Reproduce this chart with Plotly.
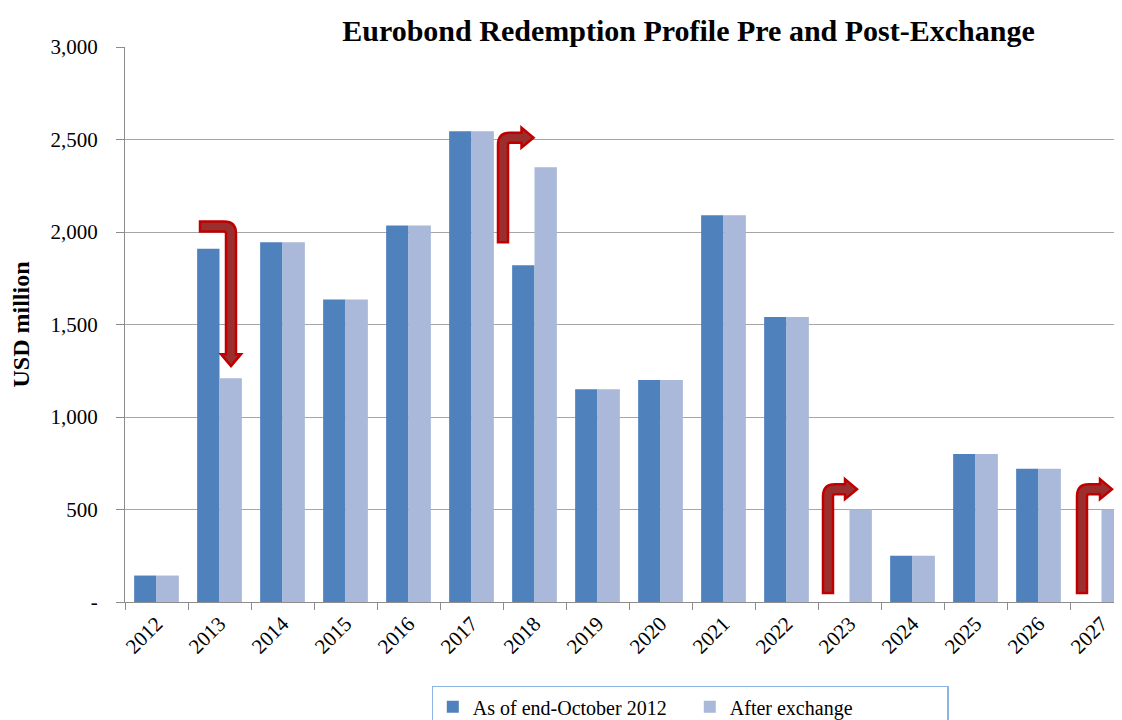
import plotly.graph_objects as go

years = ["2012", "2013", "2014", "2015", "2016", "2017", "2018", "2019",
         "2020", "2021", "2022", "2023", "2024", "2025", "2026", "2027"]
pre_exchange = [143, 1910, 1945, 1635, 2035, 2545, 1820, 1150,
                1200, 2090, 1540, 0, 250, 800, 720, 0]
post_exchange = [143, 1210, 1945, 1635, 2035, 2545, 2350, 1150,
                 1200, 2090, 1540, 500, 250, 800, 720, 500]
y_tick_vals = [0, 500, 1000, 1500, 2000, 2500, 3000]
y_tick_text = ["-", "500", "1,000", "1,500", "2,000", "2,500", "3,000"]

FONT = "Liberation Serif"
DARK = "#4F81BD"
LIGHT = "#AAB9D9"

# page is offset by the 8px body margin; figure geometry in figure pixels
OFF = 8
W_FIG, H_FIG = 1122 - OFF, 720 - OFF
L, T, B = 125 - OFF, 47 - OFF, 602 - OFF
PW, PH = W_FIG - L, B - T
CAT_PX = 63.0
X_MAX = -0.5 + PW / CAT_PX

fig = go.Figure()
fig.add_trace(go.Bar(x=years, y=pre_exchange, name="As of end-October 2012",
                     marker=dict(color=DARK, line=dict(width=0))))
fig.add_trace(go.Bar(x=years, y=post_exchange, name="After exchange",
                     marker=dict(color=LIGHT, line=dict(width=0))))


def to_paper(px, py):
    return (px - L) / PW, (B - py) / PH


def cat_px(i):
    return L + (i + 0.5) * CAT_PX


def val_py(v):
    return B - v * PH / 3000.0


def path_from(points):
    parts = []
    for cmd, pts in points:
        coords = " ".join("%.5f,%.5f" % to_paper(*p) for p in pts)
        parts.append(cmd + " " + coords if coords else cmd)
    return " ".join(parts)


h, hw, hl, Ro, Ri = 5, 10, 12, 12, 2


def down_arrow(x0, yc, xc, yt):
    pts = [("M", [(x0, yc - h)]),
           ("L", [(xc + h - Ro, yc - h)]),
           ("Q", [(xc + h, yc - h), (xc + h, yc - h + Ro)]),
           ("L", [(xc + h, yt - hl)]),
           ("L", [(xc + hw, yt - hl)]),
           ("L", [(xc, yt)]),
           ("L", [(xc - hw, yt - hl)]),
           ("L", [(xc - h, yt - hl)]),
           ("L", [(xc - h, yc + h + Ri)]),
           ("Q", [(xc - h, yc + h), (xc - h - Ri, yc + h)]),
           ("L", [(x0, yc + h)]),
           ("Z", [])]
    return path_from(pts)


def up_right_arrow(xs, yb, yc, xt):
    pts = [("M", [(xs - h, yb)]),
           ("L", [(xs - h, yc - h + Ro)]),
           ("Q", [(xs - h, yc - h), (xs - h + Ro, yc - h)]),
           ("L", [(xt - hl, yc - h)]),
           ("L", [(xt - hl, yc - hw)]),
           ("L", [(xt, yc)]),
           ("L", [(xt - hl, yc + hw)]),
           ("L", [(xt - hl, yc + h)]),
           ("L", [(xs + h + Ri, yc + h)]),
           ("Q", [(xs + h, yc + h), (xs + h, yc + h + Ri)]),
           ("L", [(xs + h, yb)]),
           ("Z", [])]
    return path_from(pts)


arrow_style = dict(type="path", xref="paper", yref="paper",
                   fillcolor="#9B2F2D", line=dict(color="#C00000", width=2.5),
                   layer="above")

# 2013: reduction
i = years.index("2013")
fig.add_shape(path=down_arrow(cat_px(i) - 19.5, val_py(2030), cat_px(i) + 11.5,
                              val_py(post_exchange[i]) - 12), **arrow_style)
# 2018: increase
i = years.index("2018")
fig.add_shape(path=up_right_arrow(cat_px(i) - 31.5, val_py(1945), val_py(2510),
                                  cat_px(i) - 1), **arrow_style)
# 2023 and 2027: new issues
for yr, dx0, dx1 in [("2023", -21.5, 7.5), ("2027", -19.5, 10.5)]:
    i = years.index(yr)
    fig.add_shape(path=up_right_arrow(cat_px(i) + dx0, val_py(48), val_py(610),
                                      cat_px(i) + dx1), **arrow_style)

fig.update_layout(
    width=W_FIG, height=H_FIG,
    margin=dict(l=L, r=0, t=T, b=H_FIG - B, autoexpand=False),
    paper_bgcolor="white", plot_bgcolor="white",
    barmode="group", bargap=0.29, bargroupgap=0,
    font=dict(family=FONT, color="black", size=21),
    title=dict(text="<b>Eurobond Redemption Profile Pre and Post-Exchange</b>",
               x=(688.5 - OFF) / W_FIG, xanchor="center", xref="container",
               y=1 - (30 - OFF) / H_FIG, yanchor="middle", yref="container",
               font=dict(family=FONT, size=30, color="black")),
    xaxis=dict(type="category", range=[-0.5, X_MAX],
               tickson="boundaries", ticks="outside", ticklen=7, tickwidth=1.3,
               tickcolor="#8C8C8C", showline=True, linecolor="#8C8C8C", linewidth=1.3,
               tickangle=-45, tickfont=dict(family=FONT, size=21), showgrid=False),
    yaxis=dict(range=[0, 3000], tickvals=y_tick_vals, ticktext=y_tick_text,
               ticks="outside", ticklen=8, tickwidth=1.3, tickcolor="#8C8C8C",
               showline=True, linecolor="#8C8C8C", linewidth=1.3,
               showgrid=True, gridcolor="#A6A6A6", gridwidth=1.3,
               tickfont=dict(family=FONT, size=21), ticklabelstandoff=14,
               title=dict(text="<b>USD million</b>", standoff=14,
                          font=dict(family=FONT, size=24))),
    legend=dict(orientation="h", x=(690 - OFF - L) / PW, xanchor="center",
                y=-(686 - 602) / PH, yanchor="top",
                bordercolor="#8EB4E3", borderwidth=1.3, bgcolor="white",
                font=dict(family=FONT, size=20), itemwidth=30, entrywidth=212,
                traceorder="normal"),
)

fig.write_html("out.html")
